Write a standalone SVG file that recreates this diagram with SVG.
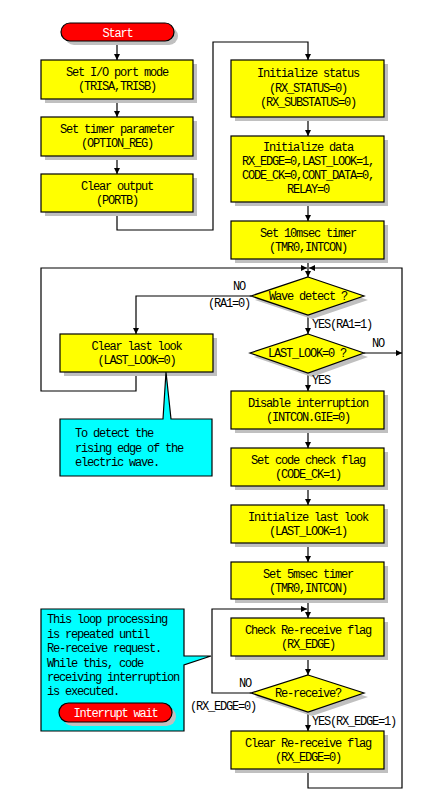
<svg xmlns="http://www.w3.org/2000/svg" width="424" height="801" viewBox="0 0 424 801">
<defs>
<marker id="ah" markerUnits="userSpaceOnUse" markerWidth="7" markerHeight="7" refX="6" refY="3" orient="auto">
<path d="M0,0 L6,3 L0,6 z" fill="#000"/>
</marker>
<style>
.bx{fill:#ffff00;stroke:#000;stroke-width:1.2}
.sh{fill:#c0c0c0}
.rd{fill:#ff0000;stroke:#000;stroke-width:1.2}
.cy{fill:#00ffff;stroke:#000;stroke-width:1.2}
.t{font-family:"Liberation Mono","Noto Sans CJK JP",monospace;font-size:12px;letter-spacing:-1.2px;fill:#000}
.c{text-anchor:middle}
.w{fill:#fff}
.ln{fill:none;stroke:#000;stroke-width:1.2}
.ar{marker-end:url(#ah)}
</style>
</defs>
<rect width="424" height="801" fill="#fff"/>

<g id="connectors">
<path class="ln ar" d="M117,41 V60"/>
<path class="ln ar" d="M117,99 V117"/>
<path class="ln ar" d="M117,156 V174"/>
<path class="ln ar" d="M117,212 V230 H213 V42 H308 V60"/>
<path class="ln ar" d="M308,117 V136"/>
<path class="ln ar" d="M308,202 V221"/>
<path class="ln ar" d="M308,259 V277"/>
<path class="ln ar" d="M136,372 V391 H41 V268 H307"/>
<path class="ln ar" d="M308,769 V788 H402 V268 H309"/>
<path class="ln ar" d="M251,296 H136 V334"/>
<path class="ln ar" d="M308,315 V334"/>
<path class="ln ar" d="M364,353 H402"/>
<path class="ln ar" d="M308,373 V391"/>
<path class="ln ar" d="M308,429 V448"/>
<path class="ln ar" d="M308,486 V505"/>
<path class="ln ar" d="M308,543 V562"/>
<path class="ln ar" d="M308,599 V618"/>
<path class="ln ar" d="M308,656 V675"/>
<path class="ln ar" d="M251,693 H212 V609 H307"/>
<path class="ln ar" d="M308,712 V731"/>
</g>

<g id="start">
<rect class="sh" x="65" y="27" width="113" height="18" rx="9"/>
<rect class="rd" x="61" y="23" width="113" height="18" rx="9"/>
<text class="t c w" x="117.5" y="37">Start</text>
</g>

<g id="set-io">
<rect class="sh" x="45" y="64" width="152" height="39"/>
<rect class="bx" x="41" y="60" width="152" height="39"/>
<text class="t c" x="117" y="76">Set I/O port mode</text>
<text class="t c" x="117" y="90">(TRISA,TRISB)</text>
</g>

<g id="set-timer-param">
<rect class="sh" x="45" y="121" width="152" height="39"/>
<rect class="bx" x="41" y="117" width="152" height="39"/>
<text class="t c" x="117" y="133">Set timer parameter</text>
<text class="t c" x="117" y="147">(OPTION_REG)</text>
</g>

<g id="clear-output">
<rect class="sh" x="45" y="178" width="152" height="38"/>
<rect class="bx" x="41" y="174" width="152" height="38"/>
<text class="t c" x="117" y="190">Clear output</text>
<text class="t c" x="117" y="204">(PORTB)</text>
</g>

<g id="init-status">
<rect class="sh" x="235" y="64" width="153" height="57"/>
<rect class="bx" x="231" y="60" width="153" height="57"/>
<text class="t c" x="308" y="77">Initialize status</text>
<text class="t c" x="308" y="91.5">(RX_STATUS=0)</text>
<text class="t c" x="308" y="106">(RX_SUBSTATUS=0)</text>
</g>

<g id="init-data">
<rect class="sh" x="235" y="140" width="153" height="66"/>
<rect class="bx" x="231" y="136" width="153" height="66"/>
<text class="t c" x="308" y="151">Initialize data</text>
<text class="t c" x="308" y="165">RX_EDGE=0,LAST_LOOK=1,</text>
<text class="t c" x="308" y="179">CODE_CK=0,CONT_DATA=0,</text>
<text class="t c" x="308" y="193">RELAY=0</text>
</g>

<g id="set-10msec">
<rect class="sh" x="235" y="225" width="153" height="38"/>
<rect class="bx" x="231" y="221" width="153" height="38"/>
<text class="t c" x="308" y="237">Set 10msec timer</text>
<text class="t c" x="308" y="251">(TMR0,INTCON)</text>
</g>

<g id="wave-detect">
<polygon class="sh" points="312,281 368,300 312,319 255,300"/>
<polygon class="bx" points="308,277 364,296 308,315 251,296"/>
<text class="t c" x="308" y="300">Wave detect ?</text>
<text class="t c" x="239" y="290">NO</text>
<text class="t c" x="229" y="307">(RA1=0)</text>
<text class="t" x="312" y="328">YES(RA1=1)</text>
</g>

<g id="last-look-check">
<polygon class="sh" points="312,338 368,357 312,377 254,357"/>
<polygon class="bx" points="308,334 364,353 308,373 250,353"/>
<text class="t c" x="307" y="357">LAST_LOOK=0 ?</text>
<text class="t c" x="378" y="347">NO</text>
<text class="t" x="312" y="384">YES</text>
</g>

<g id="clear-last-look">
<rect class="sh" x="64" y="338" width="153" height="38"/>
<rect class="bx" x="60" y="334" width="153" height="38"/>
<text class="t c" x="136.5" y="350">Clear last look</text>
<text class="t c" x="136.5" y="364">(LAST_LOOK=0)</text>
</g>

<g id="note-edge">
<path class="cy" d="M60,419 H163 L166,372 L171,419 H212 V476 H60 Z"/>
<text class="t" x="75" y="437">To detect the</text>
<text class="t" x="75" y="452">rising edge of the</text>
<text class="t" x="75" y="466">electric wave.</text>
</g>

<g id="disable-int">
<rect class="sh" x="235" y="395" width="153" height="38"/>
<rect class="bx" x="231" y="391" width="153" height="38"/>
<text class="t c" x="308" y="407">Disable interruption</text>
<text class="t c" x="308" y="421">(INTCON.GIE=0)</text>
</g>

<g id="set-code-check">
<rect class="sh" x="235" y="452" width="153" height="38"/>
<rect class="bx" x="231" y="448" width="153" height="38"/>
<text class="t c" x="308" y="464">Set code check flag</text>
<text class="t c" x="308" y="478">(CODE_CK=1)</text>
</g>

<g id="init-last-look">
<rect class="sh" x="235" y="509" width="153" height="38"/>
<rect class="bx" x="231" y="505" width="153" height="38"/>
<text class="t c" x="308" y="521">Initialize last look</text>
<text class="t c" x="308" y="535">(LAST_LOOK=1)</text>
</g>

<g id="set-5msec">
<rect class="sh" x="235" y="566" width="153" height="37"/>
<rect class="bx" x="231" y="562" width="153" height="37"/>
<text class="t c" x="308" y="578">Set 5msec timer</text>
<text class="t c" x="308" y="592">(TMR0,INTCON)</text>
</g>

<g id="check-rereceive">
<rect class="sh" x="235" y="622" width="153" height="38"/>
<rect class="bx" x="231" y="618" width="153" height="38"/>
<text class="t c" x="308" y="634">Check Re-receive flag</text>
<text class="t c" x="308" y="648">(RX_EDGE)</text>
</g>

<g id="rereceive">
<polygon class="sh" points="312,679 368,697 312,716 255,697"/>
<polygon class="bx" points="308,675 364,693 308,712 251,693"/>
<text class="t c" x="308" y="697">Re-receive?</text>
<text class="t c" x="245" y="687">NO</text>
<text class="t c" x="223" y="710">(RX_EDGE=0)</text>
<text class="t" x="312" y="725">YES(RX_EDGE=1)</text>
</g>

<g id="clear-rereceive">
<rect class="sh" x="235" y="735" width="153" height="38"/>
<rect class="bx" x="231" y="731" width="153" height="38"/>
<text class="t c" x="308" y="747">Clear Re-receive flag</text>
<text class="t c" x="308" y="761">(RX_EDGE=0)</text>
</g>

<g id="note-loop">
<path class="cy" d="M41,609 H184 V656 L211,656 L184,665 V731 H41 Z"/>
<text class="t" x="47" y="623">This loop processing</text>
<text class="t" x="47" y="638">is repeated until</text>
<text class="t" x="47" y="652">Re-receive request.</text>
<text class="t" x="47" y="667">While this, code</text>
<text class="t" x="47" y="681">receiving interruption</text>
<text class="t" x="47" y="695">is executed.</text>
</g>

<g id="interrupt-wait">
<rect class="sh" x="63" y="707" width="113" height="19" rx="9.5"/>
<rect class="rd" x="59" y="703" width="113" height="19" rx="9.5"/>
<text class="t c w" x="115.5" y="717">Interrupt wait</text>
</g>
</svg>
